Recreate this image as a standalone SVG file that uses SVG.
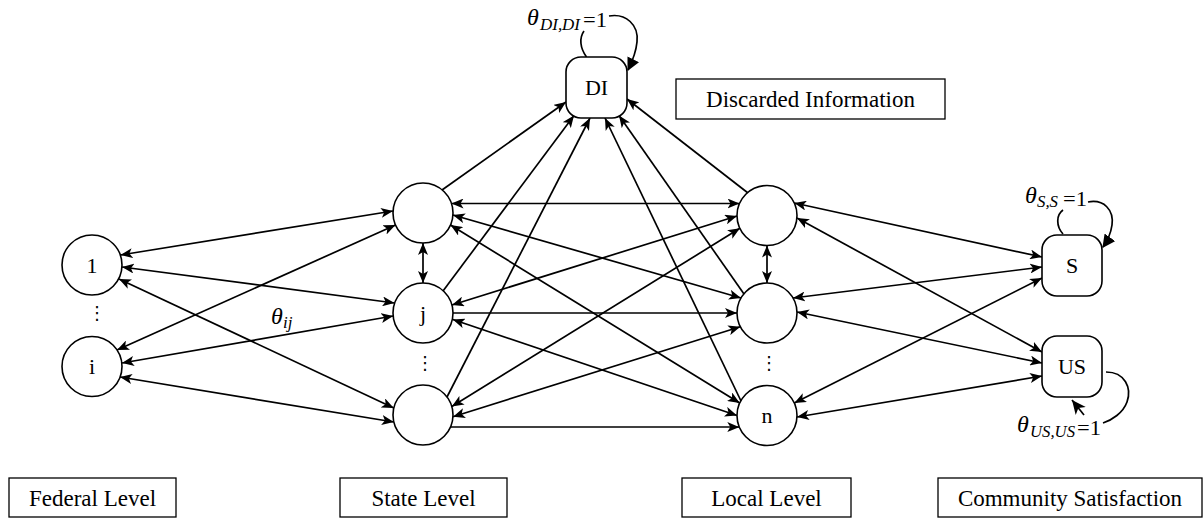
<svg xmlns="http://www.w3.org/2000/svg" width="1203" height="518" viewBox="0 0 1203 518">
<defs>
<style>
.n{fill:#fff;stroke:#000;stroke-width:1.6}
.box{fill:#fff;stroke:#000;stroke-width:1.3}
.t{font-family:"Liberation Serif","Times New Roman",serif;fill:#000}
.nl{font-size:22px;text-anchor:middle}
.bl{font-size:23px;text-anchor:middle}
.mi{font-style:italic}
.e{fill:none;stroke:#000;stroke-width:1.7}
.bi{marker-start:url(#ah);marker-end:url(#ah)}
.uni{marker-end:url(#ah)}
.dots{font-family:"DejaVu Sans",sans-serif;font-size:18px;text-anchor:middle;fill:#000}
</style>
<marker id="ah" viewBox="0 0 12 10" refX="12" refY="5" markerWidth="12" markerHeight="10" markerUnits="userSpaceOnUse" orient="auto-start-reverse">
<path d="M0,0 L12,5 L0,10 L3,5 z" fill="#000"/>
</marker>
<marker id="lh" viewBox="0 0 12 12" refX="11" refY="6" markerWidth="13" markerHeight="13" markerUnits="userSpaceOnUse" orient="auto">
<path d="M0,0 L12,6 L0,12 z" fill="#000"/>
</marker>
<marker id="ch" viewBox="0 0 13 12" refX="13" refY="6" markerWidth="14" markerHeight="13" markerUnits="userSpaceOnUse" orient="auto">
<path d="M0,0 L13,6 L0,12 L3.5,6 z" fill="#000"/>
</marker>
</defs>
<rect width="1203" height="518" fill="#fff"/>

<g id="connectors">
<!-- Federal - State -->
<line x1="120.5" y1="255" x2="393" y2="211" class="e bi"/>
<line x1="122" y1="267" x2="394.5" y2="303" class="e bi"/>
<line x1="119" y1="279" x2="393.8" y2="408" class="e bi"/>
<line x1="117" y1="350" x2="395.5" y2="225" class="e bi"/>
<line x1="122" y1="363" x2="393.2" y2="316" class="e bi"/>
<line x1="120" y1="377" x2="393.8" y2="422" class="e bi"/>
<!-- vertical -->
<line x1="423" y1="243" x2="423" y2="283" class="e bi"/>
<line x1="767" y1="245.5" x2="767" y2="283" class="e bi"/>
<!-- State - Local -->
<line x1="451.5" y1="203.5" x2="739.5" y2="203.5" class="e bi"/>
<line x1="452.9" y1="215" x2="741" y2="298" class="e bi"/>
<line x1="450.5" y1="225" x2="739.7" y2="403" class="e bi"/>
<line x1="451.9" y1="305" x2="737" y2="216" class="e bi"/>
<line x1="453" y1="313" x2="737" y2="313" class="e uni"/>
<line x1="452.8" y1="319.5" x2="737" y2="415.5" class="e bi"/>
<line x1="451.8" y1="406.5" x2="739.9" y2="228.3" class="e bi"/>
<line x1="453" y1="416.7" x2="740.3" y2="326.7" class="e bi"/>
<line x1="450.5" y1="427" x2="739.3" y2="427" class="e uni"/>
<!-- to DI -->
<line x1="442" y1="190" x2="566" y2="102" class="e uni"/>
<line x1="443" y1="291" x2="574" y2="115.5" class="e uni"/>
<line x1="447" y1="397" x2="590" y2="118" class="e uni"/>
<line x1="741" y1="401" x2="605" y2="118" class="e uni"/>
<line x1="744" y1="294" x2="619" y2="115.5" class="e uni"/>
<line x1="748" y1="193" x2="627" y2="99" class="e uni"/>
<!-- Local - S / US -->
<line x1="794.3" y1="203" x2="1042" y2="257" class="e bi"/>
<line x1="797" y1="218" x2="1042" y2="352" class="e bi"/>
<line x1="793" y1="298" x2="1042" y2="267" class="e bi"/>
<line x1="797" y1="312" x2="1042" y2="363" class="e bi"/>
<line x1="794.3" y1="403" x2="1042" y2="278" class="e bi"/>
<line x1="797" y1="417" x2="1042" y2="376" class="e bi"/>
<!-- self loops -->
<path d="M586.5,57 C580,48 579,38 584,31" class="e"/>
<path d="M609,16 C626,13 639,25 637,42 C636,52 633,60 628,70" class="e" marker-end="url(#lh)"/>
<path d="M1063,234 C1056,226 1056,215 1063,210" class="e"/>
<path d="M1088,202 C1104,199 1114,210 1112,225 C1111,232 1108,240 1103,247" class="e" marker-end="url(#lh)"/>
<path d="M1106,372 C1125,372 1132,388 1127,402 C1123,413 1112,420 1103,423" class="e"/>
<line x1="1084" y1="415" x2="1072" y2="400" class="e" marker-end="url(#ch)"/>
</g>

<g id="label-theta-ij">
<text class="t mi"><tspan x="271" y="324" font-size="24">θ</tspan><tspan x="283" y="328" font-size="17">ij</tspan></text>
</g>
<g id="label-theta-DI">
<text class="t"><tspan class="mi" x="527" y="25" font-size="24">θ</tspan><tspan class="mi" x="540" y="30" font-size="16" textLength="40" lengthAdjust="spacingAndGlyphs">DI,DI</tspan><tspan x="583" y="27" font-size="21" textLength="24" lengthAdjust="spacingAndGlyphs">=1</tspan></text>
</g>
<g id="label-theta-S">
<text class="t"><tspan class="mi" x="1025" y="203" font-size="24">θ</tspan><tspan class="mi" x="1037" y="207" font-size="16" textLength="21" lengthAdjust="spacingAndGlyphs">S,S</tspan><tspan x="1063" y="206" font-size="21" textLength="24" lengthAdjust="spacingAndGlyphs">=1</tspan></text>
</g>
<g id="label-theta-US">
<text class="t"><tspan class="mi" x="1017" y="432" font-size="24">θ</tspan><tspan class="mi" x="1030" y="437" font-size="16" textLength="45" lengthAdjust="spacingAndGlyphs">US,US</tspan><tspan x="1077" y="435" font-size="21" textLength="24" lengthAdjust="spacingAndGlyphs">=1</tspan></text>
</g>

<g id="node-federal-1"><circle cx="92" cy="265" r="30" class="n"/><text x="92" y="273" class="t nl">1</text></g>
<g id="node-federal-i"><circle cx="92" cy="366.5" r="30" class="n"/><text x="92" y="374" class="t nl">i</text></g>
<g id="dots-federal"><text x="97" y="319" class="dots">⋮</text></g>

<g id="node-state-1"><circle cx="423" cy="213" r="30" class="n"/></g>
<g id="node-state-j"><circle cx="423" cy="313" r="30" class="n"/><text x="423" y="321" class="t nl">j</text></g>
<g id="dots-state"><text x="425" y="369" class="dots">⋮</text></g>
<g id="node-state-3"><circle cx="423" cy="415" r="30" class="n"/></g>

<g id="node-local-1"><circle cx="767" cy="215.5" r="30" class="n"/></g>
<g id="node-local-2"><circle cx="767" cy="313" r="30" class="n"/></g>
<g id="dots-local"><text x="769" y="369" class="dots">⋮</text></g>
<g id="node-local-n"><circle cx="767" cy="415.5" r="30" class="n"/><text x="767" y="423" class="t nl">n</text></g>

<g id="node-DI"><rect x="566" y="57" width="61" height="61" rx="15" class="n"/><text x="596.5" y="95" class="t nl" font-size="23">DI</text></g>
<g id="node-S"><rect x="1042" y="235" width="60" height="61" rx="15" class="n"/><text x="1072" y="273" class="t nl">S</text></g>
<g id="node-US"><rect x="1042" y="336" width="60" height="61" rx="15" class="n"/><text x="1072" y="374" class="t nl">US</text></g>

<g id="box-discarded"><rect x="676" y="79" width="269" height="40" class="box"/><text x="810.5" y="106.5" class="t bl">Discarded Information</text></g>
<g id="box-federal"><rect x="9" y="478" width="167" height="39" class="box"/><text x="92.5" y="506" class="t bl">Federal Level</text></g>
<g id="box-state"><rect x="340" y="478" width="167" height="39" class="box"/><text x="423.5" y="506" class="t bl">State Level</text></g>
<g id="box-local"><rect x="682" y="478" width="169" height="39" class="box"/><text x="766.5" y="506" class="t bl">Local Level</text></g>
<g id="box-community"><rect x="938" y="478" width="264" height="39" class="box"/><text x="1070" y="506" class="t bl">Community Satisfaction</text></g>
</svg>
